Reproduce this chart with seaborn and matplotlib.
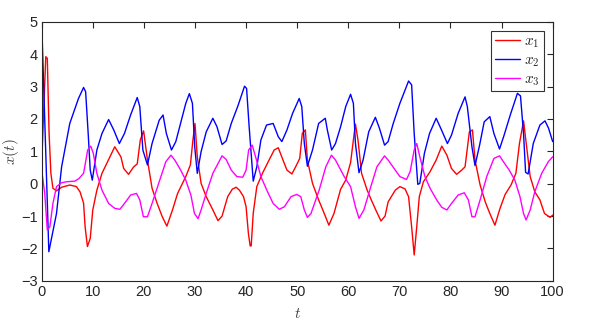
import matplotlib
matplotlib.use('Agg')
import matplotlib.pyplot as plt
import seaborn as sns
import numpy as np

# x1 (red)
t1 = [0, 0.8, 1.1, 1.45, 1.8, 2.2, 2.9, 3.9, 5.5, 6.8, 7.5, 8.2, 8.5, 8.95, 9.5, 10.0,
      10.8, 11.8, 12.9, 14.3, 15.5, 16.05, 17.0, 18.0, 18.7, 19.3, 19.95, 20.7, 21.6,
      22.6, 23.6, 24.5, 25.6, 26.6, 28.2, 29.1, 29.6, 30.0, 30.45, 31.2, 32.2, 33.5,
      34.5, 35.3, 36.4, 37.3, 38.05, 38.7, 39.5, 40.0, 40.45, 40.8, 41.0, 41.4, 42.1,
      43.2, 44.5, 45.5, 46.3, 47.1, 48.0, 48.96, 49.7, 50.5, 51.0, 51.6, 52.0, 53.0,
      54.2, 55.3, 56.2, 57.2, 58.5, 59.5, 60.45, 61.0, 61.4, 61.9, 62.6, 63.7, 64.5,
      65.5, 66.4, 67.2, 67.8, 69.2, 70.1, 71.1, 71.8, 72.4, 72.9, 73.4, 73.9, 74.7,
      76.0, 77.2, 78.3, 79.3, 80.2, 81.2, 82.2, 82.85, 83.7, 84.3, 84.8, 85.8, 86.8,
      87.7, 88.7, 89.7, 90.7, 91.85, 92.8, 93.5, 94.3, 94.9, 95.6, 96.5, 97.5, 98.4,
      99.5, 100]
x1 = [0.6, 3.92, 3.87, 1.55, 0.32, -0.14, -0.22, -0.11, -0.04, -0.09, -0.25, -0.6, -1.33,
      -1.94, -1.69, -0.81, -0.2, 0.32, 0.68, 1.14, 0.83, 0.47, 0.29, 0.52, 0.61, 1.35,
      1.63, 0.73, -0.14, -0.61, -1.02, -1.31, -0.81, -0.3, 0.22, 0.58, 1.35, 1.86, 0.83,
      0.01, -0.4, -0.81, -1.14, -1.0, -0.4, -0.17, -0.11, -0.2, -0.4, -0.71, -1.53,
      -1.92, -1.92, -0.91, -0.09, 0.32, 0.73, 1.04, 1.11, 0.78, 0.42, 0.3, 0.52, 0.78,
      1.55, 1.66, 0.73, 0.01, -0.5, -0.92, -1.28, -0.92, -0.17, 0.11, 0.65, 1.35, 1.84,
      1.35, 0.32, -0.2, -0.5, -0.85, -1.15, -1.0, -0.56, -0.2, -0.09, -0.16, -0.4, -1.33,
      -2.2, -1.33, -0.4, 0.06, 0.37, 0.73, 1.16, 0.88, 0.47, 0.29, 0.42, 0.52, 1.6,
      1.66, 0.73, -0.04, -0.56, -0.92, -1.28, -0.76, -0.33, -0.04, 0.32, 1.24, 1.94,
      1.14, 0.22, -0.25, -0.5, -0.92, -1.04, -0.97]

# x2 (blue)
t2 = [0, 1.4, 2.9, 3.9, 5.5, 7.2, 8.2, 8.6, 9.1, 9.5, 9.9, 10.8, 11.8, 13.1, 14.1, 15.2,
      16.2, 17.4, 18.7, 19.2, 19.8, 20.7, 21.6, 23.0, 23.75, 24.4, 25.4, 26.25, 28.2,
      28.9, 29.5, 29.95, 30.45, 31.2, 32.2, 33.5, 34.3, 35.3, 36.1, 37.1, 38.4, 39.7,
      40.1, 40.6, 41.4, 42.1, 42.9, 44.0, 45.3, 46.3, 47.0, 48.0, 49.1, 50.4, 50.9,
      51.4, 52.0, 53.0, 54.2, 55.5, 55.9, 56.75, 57.5, 58.5, 59.5, 60.45, 61.0, 61.4,
      62.1, 62.9, 64.0, 65.3, 66.1, 67.1, 67.8, 68.8, 70.1, 71.8, 72.4, 72.9, 73.6,
      74.0, 74.9, 75.9, 77.2, 78.1, 79.4, 80.2, 81.5, 82.85, 83.3, 84.2, 84.8, 85.7,
      86.6, 87.7, 88.5, 89.6, 90.5, 91.7, 93.1, 93.7, 94.3, 94.7, 95.2, 96.2, 97.5,
      98.5, 99.2, 100]
x2 = [5.0, -2.1, -0.92, 0.52, 1.86, 2.63, 2.97, 2.84, 1.55, 0.42, 0.11, 1.04, 1.55, 1.98,
      1.66, 1.24, 1.55, 2.12, 2.66, 2.38, 1.04, 0.58, 1.24, 1.96, 2.12, 1.55, 1.04, 1.3,
      2.48, 2.78, 2.48, 1.14, 0.32, 0.99, 1.6, 2.02, 1.76, 1.21, 1.32, 1.86, 2.4, 3.01,
      2.94, 1.76, 0.08, 0.52, 1.35, 1.81, 1.86, 1.45, 1.3, 1.66, 2.17, 2.63, 2.38, 1.24,
      0.54, 1.04, 1.86, 2.02, 1.66, 1.04, 1.24, 1.76, 2.38, 2.76, 2.48, 1.24, 0.34, 0.73,
      1.6, 2.05, 1.71, 1.19, 1.3, 1.86, 2.48, 3.17, 3.05, 1.55, -0.02, 0.01, 0.94, 1.55,
      2.02, 1.71, 1.24, 1.5, 2.17, 2.68, 2.38, 1.14, 0.56, 1.19, 1.91, 2.07, 1.55, 1.07,
      1.5, 2.12, 2.79, 2.71, 1.55, 0.35, 0.3, 1.24, 1.81, 1.94, 1.71, 1.3]

# x3 (magenta)
t3 = [0, 0.6, 1.1, 1.6, 2.2, 2.9, 3.9, 4.9, 6.5, 7.3, 8.2, 9.0, 9.6, 10.1, 10.8, 11.8,
      13.1, 14.3, 15.3, 16.2, 17.4, 18.55, 19.2, 19.9, 20.7, 21.6, 23.0, 24.3, 25.3,
      26.05, 27.2, 28.2, 29.2, 29.9, 30.6, 31.2, 32.2, 33.5, 35.3, 36.1, 37.1, 38.2,
      39.35, 40.0, 40.5, 41.2, 41.95, 42.9, 44.2, 45.3, 46.5, 47.5, 48.8, 49.9, 50.7,
      51.4, 52.0, 52.7, 54.3, 55.6, 56.7, 57.5, 59.2, 60.45, 61.4, 62.1, 63.05, 64.3,
      65.6, 67.1, 67.8, 69.2, 70.1, 71.4, 72.1, 72.9, 73.4, 74.0, 75.0, 76.0, 77.3,
      78.3, 79.3, 80.2, 81.5, 82.7, 83.5, 84.2, 84.8, 85.8, 87.1, 88.5, 89.6, 90.35,
      91.5, 92.6, 93.6, 94.3, 94.8, 95.6, 96.5, 97.85, 99.15, 100]
x3 = [0.42, -0.3, -1.43, -1.33, -0.61, -0.09, 0.03, 0.06, 0.08, 0.16, 0.32, 1.04, 1.16,
      0.94, 0.32, -0.2, -0.61, -0.76, -0.79, -0.61, -0.35, -0.3, -0.5, -1.02, -1.02,
      -0.61, 0.06, 0.68, 0.88, 0.73, 0.42, 0.11, -0.35, -0.92, -1.08, -0.81, -0.3, 0.32,
      0.86, 0.75, 0.42, 0.22, 0.2, 0.42, 1.04, 1.19, 0.78, 0.22, -0.25, -0.61, -0.79,
      -0.71, -0.4, -0.33, -0.4, -0.81, -1.04, -0.92, -0.2, 0.52, 0.88, 0.73, 0.22, -0.09,
      -0.71, -1.07, -0.81, -0.15, 0.52, 0.86, 0.73, 0.42, 0.22, 0.13, 0.37, 1.04, 1.24,
      0.83, 0.22, -0.14, -0.5, -0.73, -0.81, -0.61, -0.35, -0.28, -0.5, -1.02, -1.02,
      -0.5, 0.22, 0.78, 0.86, 0.68, 0.42, 0.11, -0.4, -0.92, -1.12, -0.81, -0.25, 0.32,
      0.68, 0.83]

sns.set_style('white')
plt.rcParams['font.family'] = ['Liberation Sans', 'DejaVu Sans']
plt.rcParams['mathtext.fontset'] = 'cm'

fig = plt.figure(figsize=(5.98, 3.27), dpi=100)
ax = fig.add_axes([0.0697, 0.141, 0.8545, 0.7926])

sns.lineplot(x=t1, y=x1, color='red', linewidth=1, label='$x_1$', sort=False, estimator=None, ax=ax)
sns.lineplot(x=t2, y=x2, color='blue', linewidth=1, label='$x_2$', sort=False, estimator=None, ax=ax)
sns.lineplot(x=t3, y=x3, color='magenta', linewidth=1, label='$x_3$', sort=False, estimator=None, ax=ax)

ax.set_xlim(0, 100)
ax.set_ylim(-3, 5)
ax.set_xticks(np.arange(0, 101, 10))
ax.set_yticks(np.arange(-3, 6, 1))
ax.tick_params(direction='in', length=4, width=0.8, top=True, right=True,
               labelsize=10.5, colors='#262626', pad=3)
for s in ax.spines.values():
    s.set_color('#262626')
    s.set_linewidth(0.8)
ax.set_xlabel('$t$', fontsize=11, color='#404040')
ax.set_ylabel('$x(t)$', fontsize=11, color='#404040')
ax.xaxis.set_label_coords(0.5, -0.1)
ax.yaxis.set_label_coords(-0.04, 0.5)

leg = ax.legend(loc='upper right', fontsize=11, frameon=True, fancybox=False,
                borderaxespad=0.6, handlelength=1.6, labelspacing=0.2,
                borderpad=0.25, handletextpad=0.3)
leg.get_frame().set_edgecolor('black')
leg.get_frame().set_linewidth(0.8)

plt.savefig('out.png', dpi=100)
